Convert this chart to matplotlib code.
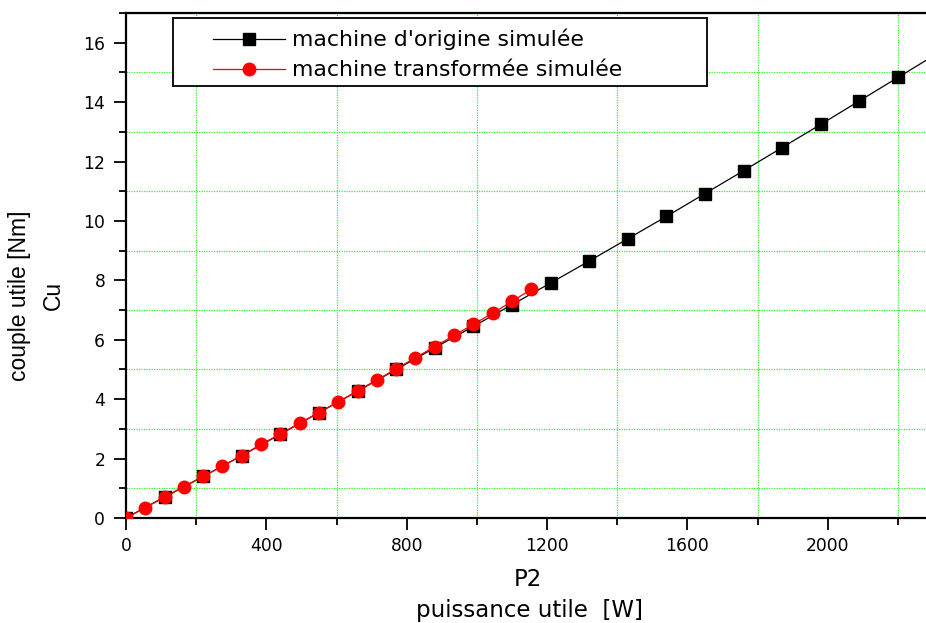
import matplotlib.pyplot as plt
from matplotlib.ticker import MultipleLocator
from matplotlib.patches import Rectangle

# puissance utile P2 [W] et couple utile Cu [Nm]
p2_origine = [0, 110, 220, 330, 440, 550, 660, 770, 880, 990, 1100,
              1210, 1320, 1430, 1540, 1650, 1760, 1870, 1980, 2090, 2200, 2310]
cu_origine = [0, 0.71, 1.40, 2.10, 2.82, 3.55, 4.27, 5.00, 5.73, 6.45, 7.18,
              7.91, 8.65, 9.40, 10.15, 10.92, 11.69, 12.47, 13.25, 14.04, 14.83, 15.62]

p2_transf = [0, 55, 110, 165, 220, 275, 330, 385, 440, 495, 550,
             605, 660, 715, 770, 825, 880, 935, 990, 1045, 1100, 1155]
cu_transf = [0, 0.35, 0.70, 1.05, 1.40, 1.75, 2.10, 2.48, 2.83, 3.20, 3.55,
             3.91, 4.28, 4.65, 5.02, 5.40, 5.77, 6.15, 6.52, 6.90, 7.29, 7.70]

labels = ["machine d'origine simulée", "machine transformée simulée"]

plt.rcParams['font.family'] = ['DejaVu Sans']

fig = plt.figure(figsize=(9.26, 6.23), dpi=100)
ax = fig.add_axes([126 / 926, 105 / 623, 800 / 926, 505 / 623])

ax.plot(p2_origine, cu_origine, color='black', lw=0.9, marker='s', ms=8.5,
        mfc='black', mec='black', label=labels[0], zorder=3)
ax.plot(p2_transf, cu_transf, color='red', lw=0.9, marker='o', ms=9,
        mfc='red', mec='red', label=labels[1], zorder=4)

ax.set_xlim(0, 2280)
ax.set_ylim(0, 17)
ax.xaxis.set_major_locator(MultipleLocator(400))
ax.xaxis.set_minor_locator(MultipleLocator(200))
ax.yaxis.set_major_locator(MultipleLocator(2))
ax.yaxis.set_minor_locator(MultipleLocator(1))

ax.grid(which='minor', color='#33ee33', linestyle=(0, (1, 1)), linewidth=0.9)
ax.grid(which='major', visible=False)

ax.tick_params(which='major', direction='out', length=8.5, width=1.3,
               labelsize=12.3)
ax.tick_params(axis='y', which='major', pad=6.5)
ax.tick_params(axis='x', which='major', pad=5)
ax.tick_params(which='minor', direction='out', length=5, width=1.3)
ax.tick_params(top=False, right=False)

for s in ['left', 'bottom', 'top']:
    ax.spines[s].set_linewidth(1.6)
ax.spines['right'].set_visible(False)

fig.text(20 / 926, 1 - 296 / 623, "couple utile [Nm]", rotation=90,
         ha='center', va='center', fontsize=16.5, family='Liberation Sans')
fig.text(53 / 926, 1 - 295 / 623, "Cu", rotation=90,
         ha='center', va='center', fontsize=16.5, family='Liberation Sans')
fig.text(528 / 926, 1 - 580 / 623, "P2", ha='center', va='center', fontsize=16.5)
fig.text(530 / 926, 1 - 610 / 623, "puissance utile  [W]", ha='center',
         va='center', fontsize=16.5)

# legend box is wider than its content, so the frame is drawn separately
ax.add_patch(Rectangle((47 / 800, 432 / 505), 534 / 800, 68 / 505,
                       transform=ax.transAxes, facecolor='white',
                       edgecolor='black', lw=1.3, zorder=5, clip_on=False))

leg = ax.legend(loc='upper left', bbox_to_anchor=(87 / 800, 1 - 16 / 505),
                fontsize=15.8, handlelength=3.3, frameon=False,
                borderpad=0, labelspacing=0.45, handletextpad=0.32,
                borderaxespad=0)
leg.set_zorder(6)

fig.savefig('out.png', dpi=100)
